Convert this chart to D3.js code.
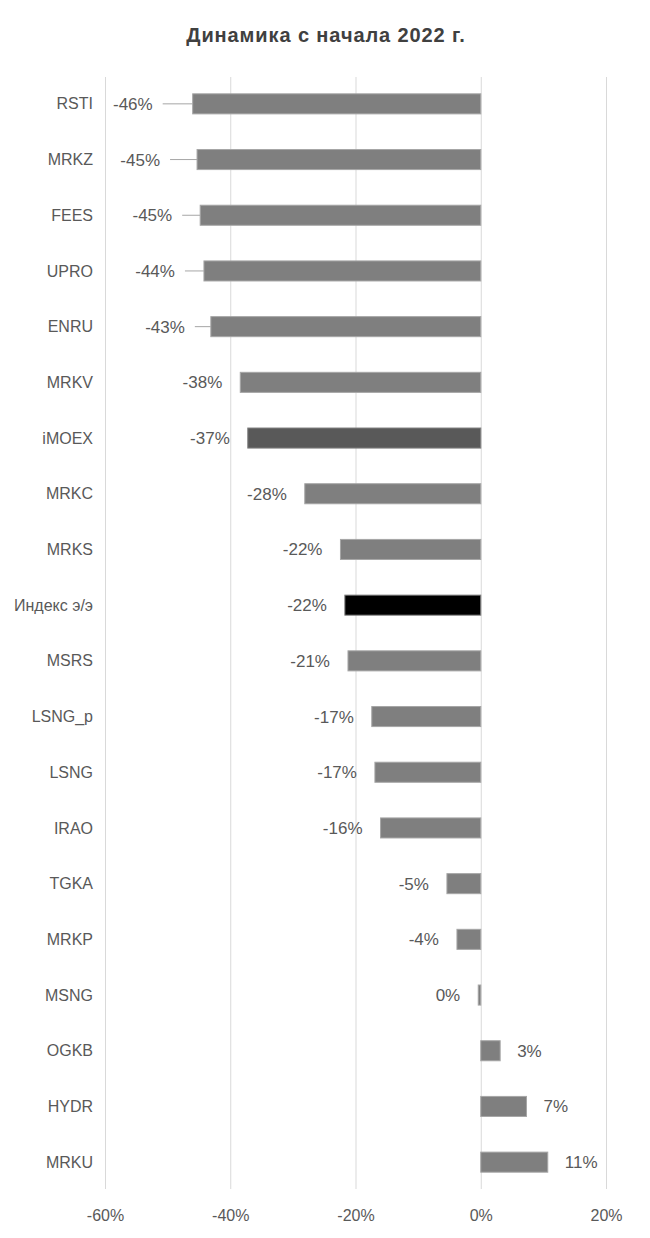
<!DOCTYPE html>
<html>
<head>
<meta charset="utf-8">
<script src="https://cdn.jsdelivr.net/npm/d3@7"></script>
<style>
  body { margin: 0; background: #fff; }
  svg text { font-family: "Liberation Sans", Arial, sans-serif; fill: #595959; }
</style>
</head>
<body>
<div id="chart"></div>
<script>
// данные: динамика с начала 2022 г., %
var tickers = ["RSTI", "MRKZ", "FEES", "UPRO", "ENRU", "MRKV", "iMOEX", "MRKC", "MRKS",
  "Индекс э/э", "MSRS", "LSNG_p", "LSNG", "IRAO", "TGKA", "MRKP", "MSNG", "OGKB", "HYDR", "MRKU"];
var changes = [-46.0, -45.3, -44.8, -44.2, -43.1, -38.4, -37.2, -28.1, -22.4,
  -21.7, -21.2, -17.4, -16.9, -16.0, -5.4, -3.8, -0.4, 3.1, 7.3, 10.7];
var xTicks = [-60, -40, -20, 0, 20];

// особые цвета столбцов
var barColors = { "iMOEX": "#595959", "Индекс э/э": "#000000" };
// подписи, сдвинутые вручную (с выносными линиями)
var labelShift = { "RSTI": -22, "MRKZ": -19, "FEES": -10, "UPRO": -11, "ENRU": -8 };

var width = 650, height = 1238;
var svg = d3.select("#chart").append("svg")
  .attr("width", width)
  .attr("height", height);

var x = d3.scaleLinear().domain([-60, 20]).range([105, 606]);
var y = d3.scaleBand().domain(tickers).range([76, 1190])
  .paddingInner(0.64).paddingOuter(0.32);

svg.append("text")
  .attr("x", 326)
  .attr("y", 42)
  .attr("text-anchor", "middle")
  .style("font-size", "20px")
  .style("font-weight", "bold")
  .style("letter-spacing", "0.9px")
  .style("fill", "#404040")
  .text("Динамика с начала 2022 г.");

// сетка и подписи оси
var axis = d3.axisBottom(x)
  .tickValues(xTicks)
  .tickSize(-(1189 - 77))
  .tickPadding(21)
  .tickFormat(function(d) { return d + "%"; });

var gx = svg.append("g")
  .attr("transform", "translate(0,1189)")
  .call(axis);
gx.select(".domain").remove();
gx.selectAll(".tick line").attr("stroke", "#d9d9d9");
gx.selectAll(".tick text")
  .style("font-size", "16px")
  .attr("font-family", null);

// категории
svg.append("g").selectAll("text")
  .data(tickers)
  .join("text")
  .attr("x", 93)
  .attr("y", function(d) { return y(d) + y.bandwidth() / 2; })
  .attr("dy", "0.35em")
  .attr("text-anchor", "end")
  .style("font-size", "16px")
  .text(function(d) { return d; });

var rows = tickers.map(function(t, i) { return { name: t, value: changes[i] }; });

// столбцы
svg.append("g").selectAll("rect")
  .data(rows)
  .join("rect")
  .attr("x", function(d) { return x(Math.min(0, d.value)); })
  .attr("y", function(d) { return y(d.name); })
  .attr("width", function(d) { return Math.abs(x(d.value) - x(0)); })
  .attr("height", y.bandwidth())
  .attr("fill", function(d) { return barColors[d.name] || "#7f7f7f"; })
  .attr("stroke", function(d) { return barColors[d.name] ? "#7f7f7f" : "#a6a6a6"; })
  .attr("stroke-width", 1);

// подписи значений
function labelX(d) {
  var base = d.value < 0 ? x(d.value) - 18 : x(d.value) + 17;
  return base + (labelShift[d.name] || 0);
}

svg.append("g").selectAll("line")
  .data(rows.filter(function(d) { return labelShift[d.name]; }))
  .join("line")
  .attr("x1", function(d) { return labelX(d) + 10; })
  .attr("x2", function(d) { return x(d.value); })
  .attr("y1", function(d) { return y(d.name) + y.bandwidth() / 2; })
  .attr("y2", function(d) { return y(d.name) + y.bandwidth() / 2; })
  .attr("stroke", "#a6a6a6")
  .attr("stroke-width", 1);

svg.append("g").selectAll("text")
  .data(rows)
  .join("text")
  .attr("x", labelX)
  .attr("y", function(d) { return y(d.name) + y.bandwidth() / 2; })
  .attr("dy", "0.35em")
  .attr("text-anchor", function(d) { return d.value < 0 ? "end" : "start"; })
  .style("font-size", "17px")
  .text(function(d) { return Math.round(d.value) + "%"; });
</script>
</body>
</html>
